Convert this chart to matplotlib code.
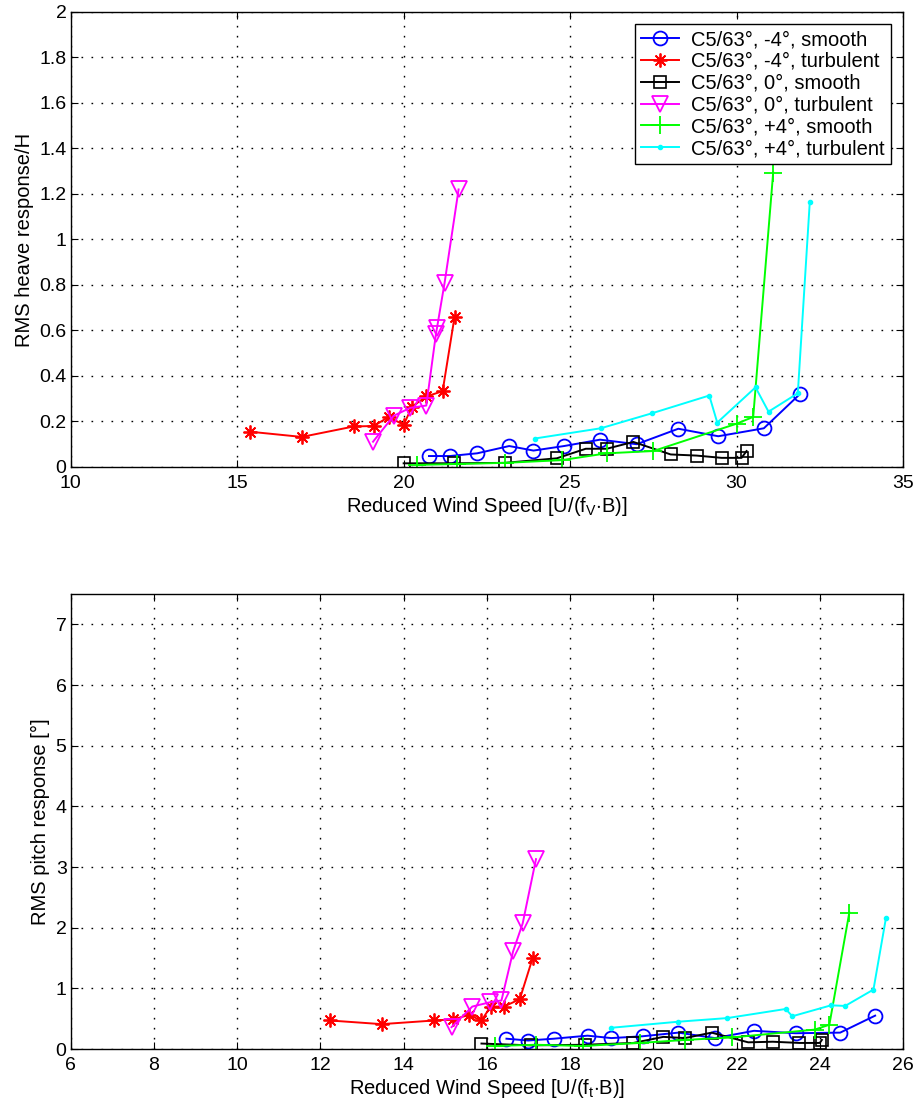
import matplotlib
matplotlib.use("Agg")
import matplotlib.pyplot as plt
from matplotlib.ticker import FormatStrFormatter, MultipleLocator

plt.rcParams['font.family'] = ['Liberation Sans', 'DejaVu Sans']
plt.rcParams['mathtext.fontset'] = 'custom'
plt.rcParams['mathtext.rm'] = 'Liberation Sans'
plt.rcParams['mathtext.it'] = 'Liberation Sans'

labels = ['C5/63°, -4°, smooth', 'C5/63°, -4°, turbulent',
          'C5/63°, 0°, smooth', 'C5/63°, 0°, turbulent',
          'C5/63°, +4°, smooth', 'C5/63°, +4°, turbulent']

# heave: reduced wind speed U/(fV*B) vs RMS heave/H
heave_m4_smooth_x = [20.76, 21.39, 22.21, 23.17, 23.9, 24.82, 25.9, 27.0, 28.25, 29.45, 30.82, 31.9]
heave_m4_smooth_y = [0.048, 0.048, 0.06, 0.092, 0.072, 0.092, 0.12, 0.10, 0.168, 0.135, 0.17, 0.32]
heave_m4_turb_x = [15.38, 16.94, 18.5, 19.1, 19.55, 20.0, 20.25, 20.68, 21.17, 21.53]
heave_m4_turb_y = [0.155, 0.132, 0.178, 0.18, 0.22, 0.185, 0.265, 0.31, 0.333, 0.661]
heave_0_smooth_x = [20.0, 21.5, 23.04, 24.6, 25.47, 26.1, 26.9, 28.02, 28.8, 29.55, 30.15, 30.3]
heave_0_smooth_y = [0.016, 0.016, 0.018, 0.038, 0.08, 0.08, 0.11, 0.055, 0.05, 0.04, 0.04, 0.07]
heave_0_turb_x = [19.08, 19.7, 20.2, 20.68, 20.97, 21.0, 21.23, 21.65]
heave_0_turb_y = [0.111, 0.225, 0.26, 0.27, 0.585, 0.61, 0.81, 1.22]
heave_p4_smooth_x = [20.4, 21.6, 23.04, 24.75, 26.1, 27.5, 30.0, 30.5, 31.1]
heave_p4_smooth_y = [0.009, 0.013, 0.018, 0.03, 0.06, 0.07, 0.19, 0.22, 1.294]
heave_p4_turb_x = [23.94, 25.92, 27.46, 29.18, 29.42, 30.57, 30.96, 31.84, 32.2]
heave_p4_turb_y = [0.125, 0.17, 0.236, 0.314, 0.195, 0.35, 0.243, 0.324, 1.166]

# pitch: reduced wind speed U/(ft*B) vs RMS pitch [deg]
pitch_m4_smooth_x = [16.47, 16.99, 17.61, 18.42, 18.99, 19.74, 20.6, 21.48, 22.42, 23.42, 24.49, 25.33]
pitch_m4_smooth_y = [0.17, 0.14, 0.17, 0.22, 0.18, 0.21, 0.27, 0.18, 0.30, 0.26, 0.27, 0.55]
pitch_m4_turb_x = [12.23, 13.47, 14.73, 15.19, 15.57, 15.87, 16.09, 16.41, 16.79, 17.1]
pitch_m4_turb_y = [0.47, 0.41, 0.47, 0.49, 0.56, 0.47, 0.70, 0.70, 0.82, 1.50]
pitch_0_smooth_x = [15.87, 17.05, 18.36, 19.52, 20.24, 20.76, 21.4, 22.28, 22.87, 23.51, 24.0, 24.05]
pitch_0_smooth_y = [0.09, 0.06, 0.07, 0.10, 0.20, 0.18, 0.27, 0.11, 0.12, 0.10, 0.10, 0.15]
pitch_0_turb_x = [15.15, 15.65, 16.07, 16.35, 16.63, 16.86, 17.18]
pitch_0_turb_y = [0.36, 0.70, 0.77, 0.80, 1.61, 2.07, 3.13]
pitch_p4_smooth_x = [16.19, 17.18, 18.3, 19.68, 20.76, 21.88, 23.88, 24.23, 24.71]
pitch_p4_smooth_y = [0.05, 0.07, 0.05, 0.10, 0.15, 0.19, 0.32, 0.40, 2.25]
pitch_p4_turb_x = [18.99, 20.6, 21.78, 23.18, 23.34, 24.27, 24.61, 25.29, 25.59]
pitch_p4_turb_y = [0.35, 0.45, 0.51, 0.66, 0.54, 0.72, 0.71, 0.98, 2.16]

FS = 14.5

def draw_series(ax, data):
    styles = [
        dict(color=(0, 0, 1), marker='o', ms=10, mfc='none', mew=1.3),
        dict(color=(1, 0, 0), marker=(8, 2, 0), ms=10, mew=1.3),
        dict(color=(0, 0, 0), marker='s', ms=8, mfc='none', mew=1.2),
        dict(color=(1, 0, 1), marker='v', ms=11, mfc='none', mew=1.3),
        dict(color=(0, 1, 0), marker='+', ms=13, mew=1.3),
        dict(color=(0, 1, 1), marker='.', ms=6),
    ]
    for (x, y), st, lab in zip(data, styles, labels):
        ax.plot(x, y, lw=1.4, label=lab, **st)

def style_axes(ax):
    ax.grid(True, color='k', linestyle=(0, (1.2, 6)), linewidth=1.0)
    ax.tick_params(direction='in', top=True, right=True, length=5, labelsize=14)
    ax.tick_params(axis='x', pad=6)
    ax.tick_params(axis='y', pad=3)
    for sp in ax.spines.values():
        sp.set_linewidth(1.0)

fig = plt.figure(figsize=(9.19, 11.11), dpi=100)
ax1 = fig.add_axes([0.077, 0.5797, 0.9056, 0.4095])
ax2 = fig.add_axes([0.077, 0.0558, 0.9056, 0.4095])

draw_series(ax1, [(heave_m4_smooth_x, heave_m4_smooth_y), (heave_m4_turb_x, heave_m4_turb_y),
                  (heave_0_smooth_x, heave_0_smooth_y), (heave_0_turb_x, heave_0_turb_y),
                  (heave_p4_smooth_x, heave_p4_smooth_y), (heave_p4_turb_x, heave_p4_turb_y)])
ax1.set_xlim(10, 35)
ax1.set_ylim(0, 2)
ax1.xaxis.set_major_locator(MultipleLocator(5))
ax1.yaxis.set_major_locator(MultipleLocator(0.2))
ax1.yaxis.set_major_formatter(FormatStrFormatter('%g'))
ax1.set_xlabel(r'Reduced Wind Speed [U/(f$_\mathregular{V}$$\cdot$B)]', fontsize=FS, labelpad=2)
ax1.set_ylabel('RMS heave response/H', fontsize=FS, labelpad=4)
style_axes(ax1)
leg = ax1.legend(loc='upper right', fontsize=FS, frameon=True, fancybox=False,
                 edgecolor='k', framealpha=1, labelspacing=0.14, handlelength=1.9,
                 handletextpad=0.6, borderaxespad=0.6, borderpad=0.3)
leg.get_frame().set_linewidth(1.0)

draw_series(ax2, [(pitch_m4_smooth_x, pitch_m4_smooth_y), (pitch_m4_turb_x, pitch_m4_turb_y),
                  (pitch_0_smooth_x, pitch_0_smooth_y), (pitch_0_turb_x, pitch_0_turb_y),
                  (pitch_p4_smooth_x, pitch_p4_smooth_y), (pitch_p4_turb_x, pitch_p4_turb_y)])
ax2.set_xlim(6, 26)
ax2.set_ylim(0, 7.5)
ax2.xaxis.set_major_locator(MultipleLocator(2))
ax2.yaxis.set_major_locator(MultipleLocator(1))
ax2.set_xlabel(r'Reduced Wind Speed [U/(f$_\mathregular{t}$$\cdot$B)]', fontsize=FS, labelpad=2)
ax2.set_ylabel('RMS pitch response [°]', fontsize=FS, labelpad=4)
style_axes(ax2)

fig.savefig('out.png', dpi=100)
